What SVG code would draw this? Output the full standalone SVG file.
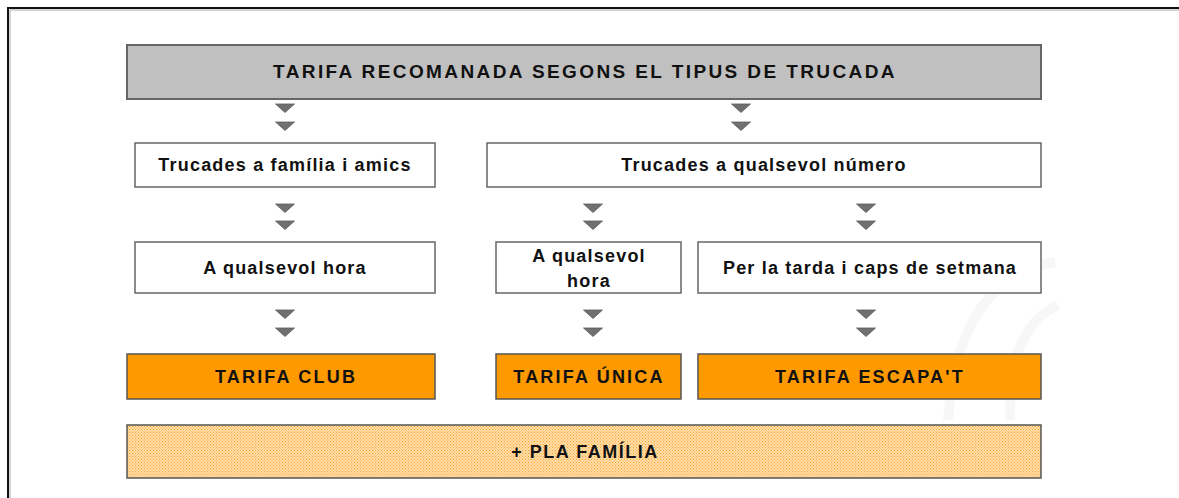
<svg xmlns="http://www.w3.org/2000/svg" width="1179" height="498" viewBox="0 0 1179 498">
  <style>
    .lbl { font-family: "Liberation Sans", Arial, sans-serif; font-weight: bold; font-size: 18px; letter-spacing: 1.2px; fill: #111; text-anchor: middle; }
    .title { font-size: 19px; letter-spacing: 2.4px; }
    .cap { letter-spacing: 2.2px; }
    .pla { letter-spacing: 1.5px; }
    .box { fill: #ffffff; stroke: #666666; stroke-width: 1.5; }
    .tar { fill: #ff9900; stroke: #555555; stroke-width: 1.5; }
    .tri { fill: #707070; stroke: #5a5a5a; stroke-width: 0.8; }
  </style>
  <defs>
    <pattern id="dots" width="3" height="3" patternUnits="userSpaceOnUse">
      <rect width="3" height="3" fill="#ffdba6"/>
      <rect width="1" height="1" fill="#f7a531"/>
      <rect x="1.5" y="1.5" width="1" height="1" fill="#f9b650"/>
    </pattern>
    <path id="arr" class="tri" d="M-9.5,0 L9.5,0 L0,8.5 Z"/>
  </defs>
  <rect width="1179" height="498" fill="#ffffff"/>
  <!-- frame -->
  <path d="M8,498 L8,8 L1179,8" fill="none" stroke="#111" stroke-width="2"/>
  <path d="M10,498 L10,10 L1179,10" fill="none" stroke="#aaa" stroke-width="1"/>
  <!-- faint watermark -->
  <g fill="none" stroke="#f7f7f7" stroke-width="10">
    <path d="M1055,262 C995,272 955,320 948,420"/>
    <path d="M1058,305 C1022,322 1008,362 1010,420"/>
  </g>

  <g id="connectors">
    <use href="#arr" x="285" y="104"/><use href="#arr" x="285" y="122"/>
    <use href="#arr" x="741" y="104"/><use href="#arr" x="741" y="122"/>
    <use href="#arr" x="285" y="204"/><use href="#arr" x="285" y="221"/>
    <use href="#arr" x="593" y="204"/><use href="#arr" x="593" y="221"/>
    <use href="#arr" x="866" y="204"/><use href="#arr" x="866" y="221"/>
    <use href="#arr" x="285" y="310"/><use href="#arr" x="285" y="328"/>
    <use href="#arr" x="593" y="310"/><use href="#arr" x="593" y="328"/>
    <use href="#arr" x="866" y="310"/><use href="#arr" x="866" y="328"/>
  </g>

  <g id="title">
    <rect x="127" y="45" width="914" height="54" fill="#c0c0c0" stroke="#666" stroke-width="2"/>
    <text class="lbl title" x="585" y="78">TARIFA RECOMANADA SEGONS EL TIPUS DE TRUCADA</text>
  </g>
  <g id="familia">
    <rect class="box" x="135" y="143" width="300" height="44"/>
    <text class="lbl" x="285" y="171">Trucades a família i amics</text>
  </g>
  <g id="qualsevol-numero">
    <rect class="box" x="487" y="143" width="554" height="44"/>
    <text class="lbl" x="764" y="171">Trucades a qualsevol número</text>
  </g>
  <g id="hora-left">
    <rect class="box" x="135" y="242" width="300" height="51"/>
    <text class="lbl" x="285" y="274">A qualsevol hora</text>
  </g>
  <g id="hora-mid">
    <rect class="box" x="496" y="242" width="185" height="51"/>
    <text class="lbl" x="589" y="262">A qualsevol</text>
    <text class="lbl" x="589" y="287">hora</text>
  </g>
  <g id="tarda">
    <rect class="box" x="698" y="242" width="343" height="51"/>
    <text class="lbl" x="870" y="274">Per la tarda i caps de setmana</text>
  </g>
  <g id="club">
    <rect class="tar" x="127" y="354" width="308" height="45"/>
    <text class="lbl cap" x="286" y="383">TARIFA CLUB</text>
  </g>
  <g id="unica">
    <rect class="tar" x="496" y="354" width="185" height="45"/>
    <text class="lbl cap" x="589" y="383">TARIFA ÚNICA</text>
  </g>
  <g id="escapat">
    <rect class="tar" x="698" y="354" width="343" height="45"/>
    <text class="lbl cap" x="870" y="383">TARIFA ESCAPA'T</text>
  </g>
  <g id="pla-familia">
    <rect x="127" y="425" width="914" height="53" fill="url(#dots)" stroke="#555" stroke-width="1.5"/>
    <text class="lbl pla" x="585" y="458">+ PLA FAMÍLIA</text>
  </g>
</svg>
